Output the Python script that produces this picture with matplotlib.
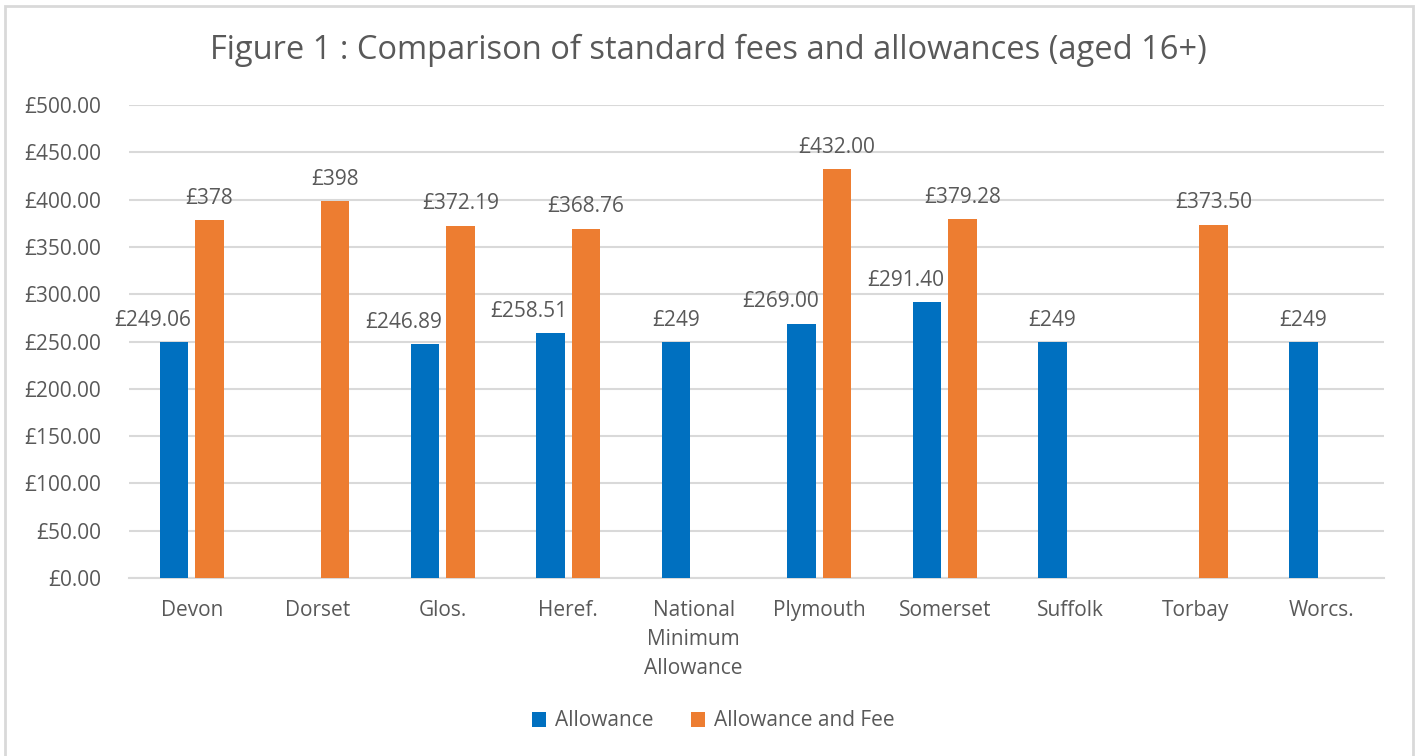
import numpy as np
import matplotlib
matplotlib.use("Agg")
import matplotlib.pyplot as plt
from matplotlib.patches import Rectangle

categories = ["Devon", "Dorset", "Glos.", "Heref.", "National\nMinimum\nAllowance",
              "Plymouth", "Somerset", "Suffolk", "Torbay", "Worcs."]
allowance = [249.06, np.nan, 246.89, 258.51, 249, 269.00, 291.40, 249, np.nan, 249]
allowance_labels = ["£249.06", "", "£246.89", "£258.51", "£249", "£269.00", "£291.40", "£249", "", "£249"]
fee = [378, 398, 372.19, 368.76, np.nan, 432.00, 379.28, np.nan, 373.50, np.nan]
fee_labels = ["£378", "£398", "£372.19", "£368.76", "", "£432.00", "£379.28", "", "£373.50", ""]
yticks = np.arange(0, 501, 50)

BLUE = "#0070C0"
ORANGE = "#ED7D31"
TEXT = "#595959"
GRID = "#D9D9D9"
FS = 15

plt.rcParams["font.family"] = ["Open Sans", "DejaVu Sans"]

fig = plt.figure(figsize=(14.16, 7.56), dpi=100)
ax = fig.add_axes([129 / 1416, 1 - 578 / 756, 1255 / 1416, 473 / 756])

x = np.arange(len(categories))
w = 0.227
off = 0.1414
b1 = ax.bar(x - off, allowance, w, color=BLUE, label="Allowance", zorder=3)
b2 = ax.bar(x + off, fee, w, color=ORANGE, label="Allowance and Fee", zorder=3)

# blue labels sit right-aligned on the bar when an orange bar is next to it
for i, (v, lab) in enumerate(zip(allowance, allowance_labels)):
    if np.isnan(v):
        continue
    if np.isnan(fee[i]):
        ax.annotate(lab, (x[i] - off, v), xytext=(0, 12), textcoords="offset points",
                    ha="center", va="baseline", fontsize=FS, color=TEXT)
    else:
        ax.annotate(lab, (x[i] - off + w / 2, v), xytext=(2, 12), textcoords="offset points",
                    ha="right", va="baseline", fontsize=FS, color=TEXT)
for i, (v, lab) in enumerate(zip(fee, fee_labels)):
    if np.isnan(v):
        continue
    ax.annotate(lab, (x[i] + off, v), xytext=(0, 12), textcoords="offset points",
                ha="center", va="baseline", fontsize=FS, color=TEXT)

ax.set_xlim(-0.5, len(categories) - 0.5)
ax.set_ylim(0, 500)
ax.set_yticks(yticks)
ax.set_yticklabels([f"£{t:.2f}" for t in yticks])
ax.set_xticks(x)
ax.set_xticklabels(categories, linespacing=1.5)
ax.tick_params(axis="y", length=0, pad=20, labelsize=FS, labelcolor=TEXT)
ax.tick_params(axis="x", length=0, pad=16, labelsize=FS, labelcolor=TEXT)
ax.grid(axis="y", color=GRID, linewidth=1.5, zorder=0)
for s in ["top", "right", "left"]:
    ax.spines[s].set_visible(False)
ax.spines["bottom"].set_color(GRID)
ax.spines["bottom"].set_linewidth(1.5)

fig.text(0.5, 1 - 50 / 756, "Figure 1 : Comparison of standard fees and allowances (aged 16+)",
         ha="center", va="center", fontsize=23.5, color=TEXT)

fig.legend(handles=[b1, b2], loc="center", bbox_to_anchor=(713 / 1416, 1 - 721 / 756),
           ncol=2, frameon=False, fontsize=FS, labelcolor=TEXT,
           handlelength=0.7, handleheight=0.7, handletextpad=0.4, columnspacing=1.8)

fig.patches.append(Rectangle((4.5 / 1416, -0.02), (1413 - 4.5) / 1416, 1.02 - 5.5 / 756,
                             transform=fig.transFigure, fill=False,
                             edgecolor=GRID, linewidth=2))

fig.savefig("out.png", dpi=100)
